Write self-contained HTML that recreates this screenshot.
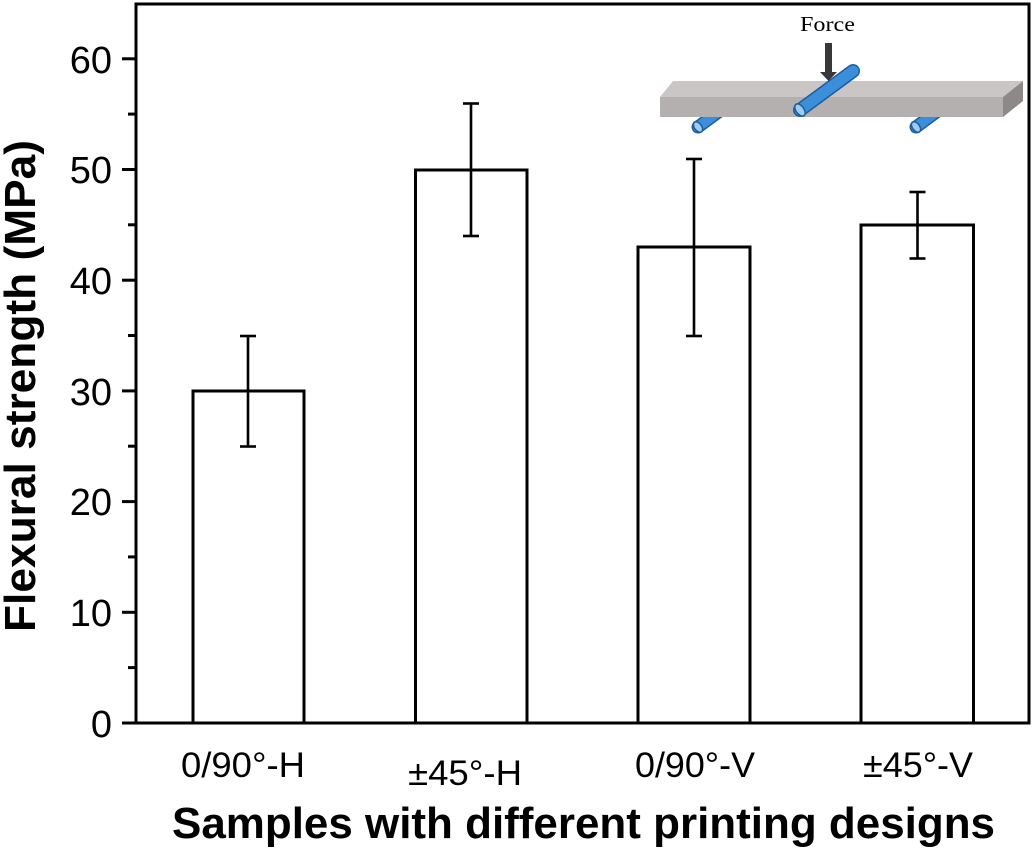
<!DOCTYPE html>
<html>
<head>
<meta charset="utf-8">
<style>
  html, body { margin: 0; padding: 0; background: #ffffff; }
  svg { display: block; }
  text { font-family: "Liberation Sans", Arial, sans-serif; fill: #000; }
</style>
</head>
<body>
<svg width="1033" height="853" viewBox="0 0 1033 853" xmlns="http://www.w3.org/2000/svg">
  <rect x="0" y="0" width="1033" height="853" fill="#ffffff"/>

  <!-- Inset: supports behind the beam -->
  <g>
    <line x1="698" y1="127" x2="736" y2="99" stroke="#1d5d9c" stroke-width="13" stroke-linecap="round"/>
    <line x1="698" y1="127" x2="736" y2="99" stroke="#3b8fda" stroke-width="10" stroke-linecap="round"/>
    <ellipse cx="698" cy="127" rx="6" ry="3.6" transform="rotate(54 698 127)" fill="#9ecbf1" stroke="#1d5d9c" stroke-width="1.5"/>

    <line x1="916" y1="127" x2="954" y2="99" stroke="#1d5d9c" stroke-width="13" stroke-linecap="round"/>
    <line x1="916" y1="127" x2="954" y2="99" stroke="#3b8fda" stroke-width="10" stroke-linecap="round"/>
    <ellipse cx="916" cy="127" rx="6" ry="3.6" transform="rotate(54 916 127)" fill="#9ecbf1" stroke="#1d5d9c" stroke-width="1.5"/>
  </g>

  <!-- Beam -->
  <polygon points="660,97 673,81 1023,81 1003,97" fill="#cac6c6"/>
  <rect x="660" y="97" width="343" height="20" fill="#b4b0b0"/>
  <polygon points="1003,97 1023,81 1023,101 1003,117" fill="#8d8989"/>

  <!-- Force arrow -->
  <rect x="825" y="43" width="7" height="30" fill="#383838"/>
  <polygon points="820,72 837,72 828.5,81" fill="#383838"/>
  <text x="800" y="31" font-family="Liberation Serif, serif" font-size="21" textLength="55" lengthAdjust="spacingAndGlyphs" style="font-family:'Liberation Serif',serif">Force</text>

  <!-- Center loading rod -->
  <line x1="800" y1="110" x2="853" y2="71" stroke="#1d5d9c" stroke-width="14" stroke-linecap="round"/>
  <line x1="800" y1="110" x2="853" y2="71" stroke="#3b8fda" stroke-width="11" stroke-linecap="round"/>
  <ellipse cx="800" cy="110" rx="7" ry="4" transform="rotate(54 800 110)" fill="#9ecbf1" stroke="#1d5d9c" stroke-width="1.5"/>

  <!-- Plot frame -->
  <rect x="136" y="4" width="893" height="719" fill="none" stroke="#000" stroke-width="3"/>

  <!-- Y ticks -->
  <g stroke="#000" stroke-width="3">
    <line x1="122" y1="723" x2="136" y2="723"/>
    <line x1="122" y1="612.3" x2="136" y2="612.3"/>
    <line x1="122" y1="501.6" x2="136" y2="501.6"/>
    <line x1="122" y1="390.9" x2="136" y2="390.9"/>
    <line x1="122" y1="280.2" x2="136" y2="280.2"/>
    <line x1="122" y1="169.5" x2="136" y2="169.5"/>
    <line x1="122" y1="58.8" x2="136" y2="58.8"/>
    <line x1="128" y1="667.6" x2="136" y2="667.6"/>
    <line x1="128" y1="556.9" x2="136" y2="556.9"/>
    <line x1="128" y1="446.2" x2="136" y2="446.2"/>
    <line x1="128" y1="335.5" x2="136" y2="335.5"/>
    <line x1="128" y1="224.8" x2="136" y2="224.8"/>
    <line x1="128" y1="114.1" x2="136" y2="114.1"/>
  </g>

  <!-- Y tick labels -->
  <g font-size="38" text-anchor="end">
    <text x="112" y="737">0</text>
    <text x="112" y="626">10</text>
    <text x="112" y="515">20</text>
    <text x="112" y="405">30</text>
    <text x="112" y="294">40</text>
    <text x="112" y="183">50</text>
    <text x="112" y="73">60</text>
  </g>

  <!-- Bars -->
  <g fill="#ffffff" stroke="#000" stroke-width="3">
    <rect x="193" y="391" width="111" height="332"/>
    <rect x="415.5" y="170" width="111.5" height="553"/>
    <rect x="638" y="247" width="112" height="476"/>
    <rect x="861" y="225" width="112.5" height="498"/>
  </g>

  <!-- Error bars -->
  <g stroke="#000" stroke-width="2.6" fill="none">
    <line x1="248" y1="336" x2="248" y2="446.5"/>
    <line x1="240" y1="336" x2="256" y2="336"/>
    <line x1="240" y1="446.5" x2="256" y2="446.5"/>

    <line x1="471" y1="103.5" x2="471" y2="236"/>
    <line x1="463" y1="103.5" x2="479" y2="103.5"/>
    <line x1="463" y1="236" x2="479" y2="236"/>

    <line x1="694" y1="159" x2="694" y2="336"/>
    <line x1="686" y1="159" x2="702" y2="159"/>
    <line x1="686" y1="336" x2="702" y2="336"/>

    <line x1="917.5" y1="192" x2="917.5" y2="258.5"/>
    <line x1="909.5" y1="192" x2="925.5" y2="192"/>
    <line x1="909.5" y1="258.5" x2="925.5" y2="258.5"/>
  </g>

  <!-- X tick labels -->
  <g font-size="35" text-anchor="middle">
    <text x="243" y="777" textLength="124" lengthAdjust="spacingAndGlyphs">0/90°-H</text>
    <text x="465" y="785" textLength="114" lengthAdjust="spacingAndGlyphs">±45°-H</text>
    <text x="695" y="777" textLength="120" lengthAdjust="spacingAndGlyphs">0/90°-V</text>
    <text x="918" y="777" textLength="110" lengthAdjust="spacingAndGlyphs">±45°-V</text>
  </g>

  <!-- Axis titles -->
  <text x="583.5" y="838" font-size="44" font-weight="bold" text-anchor="middle" textLength="823" lengthAdjust="spacingAndGlyphs">Samples with different printing designs</text>
  <text transform="translate(35,386) rotate(-90)" font-size="44" font-weight="bold" text-anchor="middle" textLength="492" lengthAdjust="spacingAndGlyphs">Flexural strength (MPa)</text>
</svg>
</body>
</html>
